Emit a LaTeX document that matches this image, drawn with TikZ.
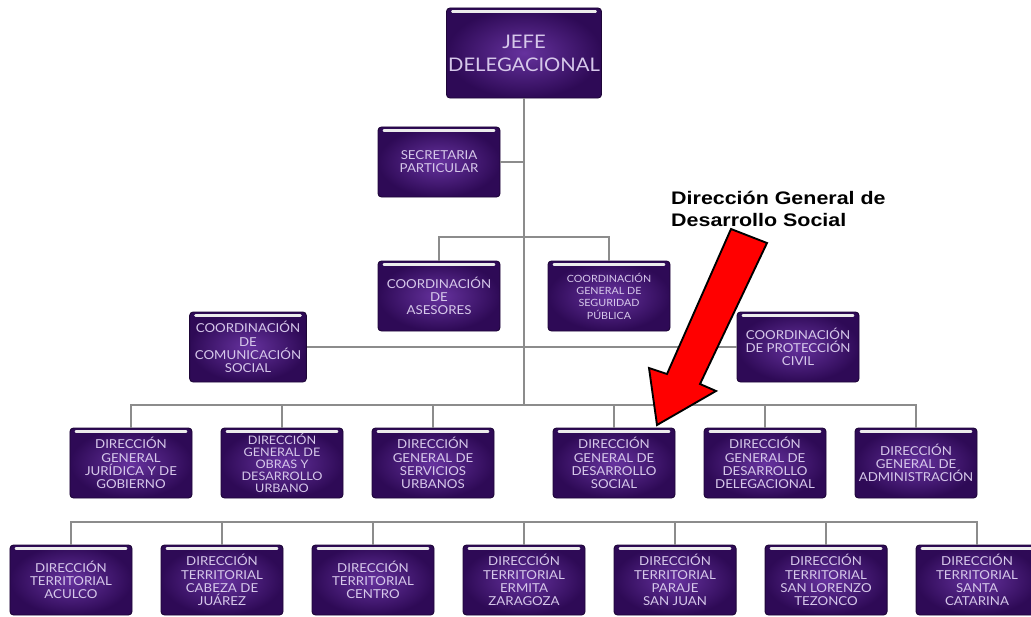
\documentclass[tikz,border=0pt]{standalone}
\usepackage{fontspec}
\newfontfamily\orgfont[FakeStretch=1.08]{Lato}
\newfontfamily\notefont[FakeStretch=1.18]{Liberation Sans}
\usetikzlibrary{positioning}
\definecolor{moradoosc}{HTML}{2E0A56}
\definecolor{moradocl}{HTML}{66329E}
\definecolor{borde}{HTML}{1E0638}
\definecolor{lila}{HTML}{D6C8EA}
\definecolor{linea}{HTML}{8C8C8C}

\begin{document}
\begin{tikzpicture}[x=0.03cm,y=-0.03cm,node distance=4.53cm,on grid,
  unidad/.style={rectangle,rounded corners=3pt,draw=borde,line width=0.8pt,
    inner color=moradocl,outer color=moradoosc,text=lila,
    minimum width=3.66cm,minimum height=2.1cm,align=center,inner sep=1pt,
    font=\orgfont\fontsize{10.5}{11.2}\selectfont,
    path picture={\draw[white!85!gray,line width=2.2pt,line cap=round]
      ([xshift=5pt,yshift=-3pt]path picture bounding box.north west) --
      ([xshift=-5pt,yshift=-3pt]path picture bounding box.north east);}},
  rama/.style={draw=linea,line width=1.1pt}]
\useasboundingbox (0,0) rectangle (1031,617);
\clip (0,0) rectangle (1031,617);

\node[unidad,minimum width=4.65cm,minimum height=2.7cm,
  font=\orgfont\fontsize{16}{19.5}\selectfont] (jefe) at (524,53) {JEFE\\DELEGACIONAL};
\node[unidad] (secretaria) at (439,162) {SECRETARIA\\PARTICULAR};
\node[unidad] (asesores) at (439,296) {COORDINACIÓN\\DE\\ASESORES};
\node[unidad,font=\orgfont\fontsize{8.5}{10.5}\selectfont] (seguridad) at (609,296)
  {COORDINACIÓN\\GENERAL DE\\SEGURIDAD\\PÚBLICA};
\node[unidad,minimum width=3.5cm] (comunicacion) at (248,347)
  {COORDINACIÓN\\DE\\COMUNICACIÓN\\SOCIAL};
\node[unidad] (proteccion) at (798,347) {COORDINACIÓN\\DE PROTECCIÓN\\CIVIL};

% direcciones generales
\node[unidad] (juridica) at (131,463) {DIRECCIÓN\\GENERAL\\JURÍDICA Y DE\\GOBIERNO};
\node[unidad,font=\orgfont\fontsize{10}{10.3}\selectfont] (obras) [right=of juridica]
  {DIRECCIÓN\\GENERAL DE\\OBRAS Y\\DESARROLLO\\URBANO};
\node[unidad] (servicios) [right=of obras] {DIRECCIÓN\\GENERAL DE\\SERVICIOS\\URBANOS};
\node[unidad] (social) at (614,463) {DIRECCIÓN\\GENERAL DE\\DESARROLLO\\SOCIAL};
\node[unidad] (delegacional) [right=of social] {DIRECCIÓN\\GENERAL DE\\DESARROLLO\\DELEGACIONAL};
\node[unidad] (administracion) [right=of delegacional] {DIRECCIÓN\\GENERAL DE\\ADMINISTRACIÓN};

% direcciones territoriales
\node[unidad] (aculco) at (71,580) {DIRECCIÓN\\TERRITORIAL\\ACULCO};
\node[unidad] (cabeza) [right=of aculco] {DIRECCIÓN\\TERRITORIAL\\CABEZA DE\\JUÁREZ};
\node[unidad] (centro) [right=of cabeza] {DIRECCIÓN\\TERRITORIAL\\CENTRO};
\node[unidad] (ermita) [right=of centro] {DIRECCIÓN\\TERRITORIAL\\ERMITA\\ZARAGOZA};
\node[unidad] (paraje) [right=of ermita] {DIRECCIÓN\\TERRITORIAL\\PARAJE\\SAN JUAN};
\node[unidad] (sanlorenzo) [right=of paraje] {DIRECCIÓN\\TERRITORIAL\\SAN LORENZO\\TEZONCO};
\node[unidad] (santacatarina) [right=of sanlorenzo] {DIRECCIÓN\\TERRITORIAL\\SANTA\\CATARINA};

\coordinate (tronco) at (524,405);
\coordinate (barra) at (524,237);
\coordinate (tbarra) at (524,522);
\path[rama] (jefe) -- (tronco)
  (secretaria) -- (secretaria -| jefe)
  (asesores) |- (barra) -| (seguridad)
  (comunicacion) -- (proteccion)
  (juridica) |- (tronco) -| (administracion)
  (aculco) |- (tbarra) -| (santacatarina);
\foreach \n in {obras,servicios,social,delegacional}
  \path[rama] (\n) -- (\n |- tronco);
\foreach \n in {cabeza,centro,ermita,paraje,sanlorenzo}
  \path[rama] (\n) -- (\n |- tbarra);

% flecha
\node[anchor=north west,align=left,inner sep=0pt,
  font=\notefont\bfseries\fontsize{15.5}{18.7}\selectfont] (nota) at (671,191)
  {Dirección General de\\Desarrollo Social};
\filldraw[fill=red,draw=black,line width=1.6pt]
  (731,229) -- (767,243) -- (700,384) -- (716,391) -- (657,425)
  -- (649,368) -- (667,374) -- cycle;
\end{tikzpicture}
\end{document}
